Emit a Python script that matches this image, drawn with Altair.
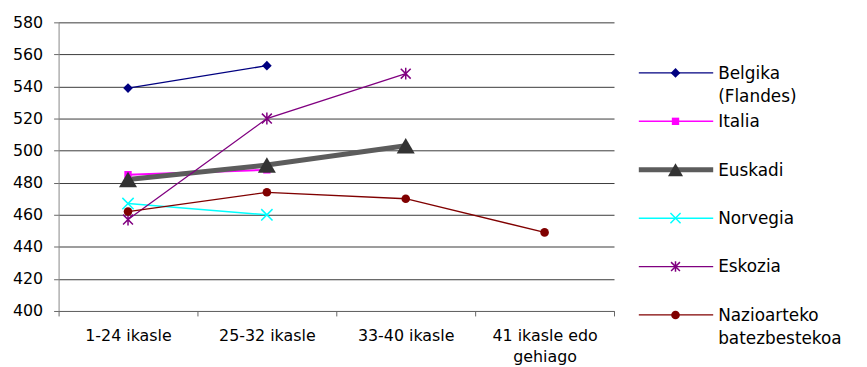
import altair as alt
import pandas as pd

categories = ["1-24 ikasle", "25-32 ikasle", "33-40 ikasle", "41 ikasle edo gehiago"]
series_names = ["Belgika (Flandes)", "Italia", "Euskadi", "Norvegia", "Eskozia",
                "Nazioarteko batezbestekoa"]
legend_labels = ["Belgika\n(Flandes)", "Italia", "Euskadi", "Norvegia", "Eskozia",
                 "Nazioarteko\nbatezbestekoa"]
y_ticks = [400, 420, 440, 460, 480, 500, 520, 540, 560, 580]

belgika = [539, 553, None, None]
italia = [485, 488, None, None]
euskadi = [482, 491, 503, None]
norvegia = [467, 460, None, None]
eskozia = [457, 520, 548, None]
nazioarteko = [462, 474, 470, 449]

values = [belgika, italia, euskadi, norvegia, eskozia, nazioarteko]

rows = []
for name, vals in zip(series_names, values):
    for c, v in zip(categories, vals):
        if v is not None:
            rows.append({"cat": c, "series": name, "value": v})
df = pd.DataFrame(rows)

leg = pd.DataFrame({"series": series_names, "label": legend_labels,
                    "idx": list(range(len(series_names)))})

XPATH = "M-1,-1L1,1M-1,1L1,-1"
STAR = "M-1,-1L1,1M-1,1L1,-1M0,-1.2L0,1.2"
styles = {
    "Belgika (Flandes)": dict(color="#000080", mcolor="#000080", shape="diamond", size=95, filled=True, width=1.3, lw=1.3),
    "Italia": dict(color="#FF00FF", mcolor="#FF00FF", shape="square", size=55, filled=True, width=2, lw=1.5),
    "Euskadi": dict(color="#5c5c5c", mcolor="#333333", shape="triangle-up", size=330, filled=True, width=5, lw=5),
    "Norvegia": dict(color="#00FFFF", mcolor="#00FFFF", shape=XPATH, size=130, filled=False, width=1.5, lw=1.5),
    "Eskozia": dict(color="#800080", mcolor="#800080", shape=STAR, size=100, filled=False, width=1.3, lw=1.3),
    "Nazioarteko batezbestekoa": dict(color="#800000", mcolor="#800000", shape="circle", size=75, filled=True, width=1.3, lw=1.3),
}
draw_order = ["Italia", "Euskadi", "Belgika (Flandes)", "Norvegia", "Eskozia",
              "Nazioarteko batezbestekoa"]

FONT = "DejaVu Sans"

xenc = alt.X("cat:N", sort=categories,
             scale=alt.Scale(type="band", domain=categories, paddingInner=0, paddingOuter=0),
             axis=alt.Axis(title=None, labelAngle=0, tickBand="extent", tickSize=5,
                           labelPadding=12, labelFontSize=16, labelFont=FONT,
                           labelColor="black", domainColor="#666666", tickColor="#666666",
                           labelLineHeight=21,
                           labelExpr="datum.label == '41 ikasle edo gehiago' ? ['41 ikasle edo', 'gehiago'] : datum.label"))
yenc = alt.Y("value:Q",
             scale=alt.Scale(domain=[400, 580], nice=False, zero=False),
             axis=alt.Axis(title=None, values=y_ticks, grid=True, gridColor="#3a3a3a",
                           gridWidth=1, tickSize=5, labelPadding=11, labelFontSize=16,
                           labelFont=FONT, labelColor="black", domainColor="#888888",
                           tickColor="#666666", minExtent=51, maxExtent=51))

base = alt.Chart(df)
layers = []
for name in draw_order:
    s = styles[name]
    sub = base.transform_filter(alt.datum.series == name)
    layers.append(sub.mark_line(color=s["color"], strokeWidth=s["width"]).encode(x=xenc, y=yenc))
for name in draw_order:
    s = styles[name]
    sub = base.transform_filter(alt.datum.series == name)
    if s["filled"]:
        pm = sub.mark_point(shape=s["shape"], size=s["size"], filled=True,
                            color=s["mcolor"], opacity=1)
    else:
        pm = sub.mark_point(shape=s["shape"], size=s["size"], filled=False,
                            color=s["mcolor"], strokeWidth=1.5, opacity=1)
    layers.append(pm.encode(x=xenc, y=yenc))

main = alt.layer(*layers).properties(width=560, height=291)

LH = 340
ly = alt.Y("idx:Q", scale=alt.Scale(domain=[-1.045, -1.045 + LH / 48.8], reverse=True,
                                    nice=False, zero=False), axis=None)
lbase = alt.Chart(leg)
llayers = []
for name in series_names:
    s = styles[name]
    sub = lbase.transform_filter(alt.datum.series == name)
    llayers.append(sub.mark_rule(color=s["color"], strokeWidth=s["lw"]).encode(
        x=alt.value(24), x2=alt.value(99), y=ly))
    if s["filled"]:
        pm = sub.mark_point(shape=s["shape"], size=s["size"] * (0.7 if name == "Euskadi" else 1),
                            filled=True, color=s["mcolor"], opacity=1)
    else:
        pm = sub.mark_point(shape=s["shape"], size=s["size"] * 0.8, filled=False,
                            color=s["mcolor"], strokeWidth=1.5, opacity=1)
    llayers.append(pm.encode(x=alt.value(61), y=ly))
llayers.append(lbase.mark_text(align="left", baseline="top", dy=-7, lineBreak="\n",
                               lineHeight=23, font=FONT, fontSize=17, color="black").encode(
    x=alt.value(104), y=ly, text="label:N"))
legend = alt.layer(*llayers).properties(width=246, height=LH)

chart = alt.hconcat(main, legend, spacing=0).resolve_scale(
    x="independent", y="independent"
).properties(
    padding={"left": 0, "top": 5, "right": 0, "bottom": 0}
).configure_view(stroke=None)

chart.save("out.html", embed_options={"renderer": "svg", "actions": False})
